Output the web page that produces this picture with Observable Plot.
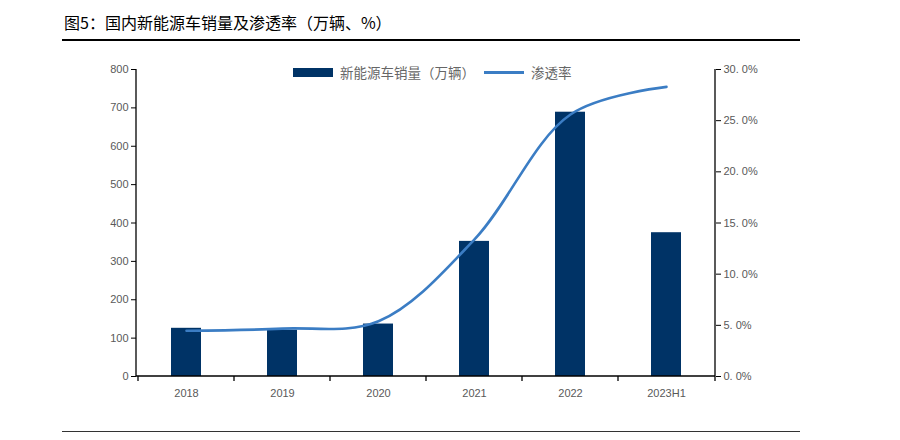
<!DOCTYPE html>
<html><head><meta charset="utf-8">
<script src="https://cdn.jsdelivr.net/npm/d3@7"></script>
<script src="https://cdn.jsdelivr.net/npm/@observablehq/plot@0.6"></script>
<style>
body{margin:0;background:#fff;}
#wrap{position:relative;width:900px;height:440px;overflow:hidden;font-family:"Liberation Sans",Arial,"Noto Sans CJK SC",sans-serif;}
#title{position:absolute;left:64px;top:11px;font-family:"Noto Sans CJK SC",sans-serif;font-size:16px;color:#000;white-space:nowrap;line-height:22px;}
.hr{position:absolute;left:62px;width:738px;background:#000;}
#legend{position:absolute;top:61px;left:293px;font-family:"Noto Sans CJK SC",sans-serif;font-size:13.5px;color:#666;white-space:nowrap;line-height:18px;}
#legend span{display:inline-block;vertical-align:middle;}
svg{position:absolute;left:0;top:0;}
</style></head>
<body><div id="wrap">
<div id="title">图5：国内新能源车销量及渗透率（万辆、%）</div>
<div class="hr" style="top:39px;height:1.5px;"></div>
<div class="hr" style="top:431px;height:1px;background:#333;"></div>
<div id="chart"></div>
<div id="legend"><span style="width:40px;height:9px;background:#003366;"></span><span style="margin-left:7px;">新能源车销量（万辆）</span><span style="width:40px;height:2.5px;background:#3b7dc4;margin-left:9px;"></span><span style="margin-left:7px;">渗透率</span></div>
</div>
<script>
const categories = ["2018","2019","2020","2021","2022","2023H1"];
const sales = [125.6, 120.6, 136.7, 352.1, 688.7, 374.7];
const rates = [4.47, 4.68, 5.4, 13.4, 25.6, 28.3];
const leftTicks = [0,100,200,300,400,500,600,700,800];
const rightTicks = [0,5,10,15,20,25,30];

const leftMax = 800, rightMax = 30;
const toLeft = p => p * leftMax / rightMax;
const table = categories.map((c,i) => ({year:c, sales:sales[i], rate:rates[i]}));

function frameLines(index, scales, values, dim) {
  const g = d3.create("svg:g").attr("stroke","#000").attr("stroke-width",1.3).attr("fill","none");
  const x = scales.x, y = scales.y;
  const L = dim.marginLeft, R = dim.width - dim.marginRight;
  const T = dim.marginTop, B = dim.height - dim.marginBottom;
  g.append("line").attr("x1",L).attr("x2",L).attr("y1",T).attr("y2",B);
  g.append("line").attr("x1",R).attr("x2",R).attr("y1",T).attr("y2",B);
  g.append("line").attr("x1",L).attr("x2",R).attr("y1",y(0)).attr("y2",y(0));
  const bounds = categories.map(c => x(c)).concat([R]);
  for (const bx of bounds) g.append("line").attr("x1",bx).attr("x2",bx).attr("y1",B).attr("y2",B+5);
  return g.node();
}

const plot = Plot.plot({
  width: 900, height: 440,
  marginLeft: 136, marginRight: 185, marginTop: 69, marginBottom: 64,
  style: {fontFamily: '"Liberation Sans", Arial, sans-serif', fontSize: "11px", background: "transparent"},
  x: {domain: categories, padding: 0, axis: null},
  y: {domain: [0, leftMax], axis: null},
  marks: [
    Plot.barY(table, {x: "year", y: "sales", fill: "#003366", insetLeft: 33, insetRight: 33}),
    Plot.line(table, {x: "year", y: d => toLeft(d.rate), stroke: "#3b7dc4", strokeWidth: 2.6, curve: "catmull-rom"}),
    Plot.axisY({anchor: "left", label: null, ticks: leftTicks, tickSize: 5, tickPadding: 3, fill: "#595959", stroke: "#000", fontSize: 11}),
    Plot.axisY({anchor: "right", label: null, ticks: rightTicks.map(toLeft), tickSize: 5, tickPadding: 3, fill: "#595959", stroke: "#000", fontSize: 11,
      tickFormat: v => (v * rightMax / leftMax).toFixed(1).replace(".", ". ") + "%"}),
    Plot.axisX({anchor: "bottom", label: null, tickSize: 0, tickPadding: 13, fill: "#595959", fontSize: 11}),
    frameLines
  ]
});
document.getElementById("chart").appendChild(plot);
</script>
</body></html>
